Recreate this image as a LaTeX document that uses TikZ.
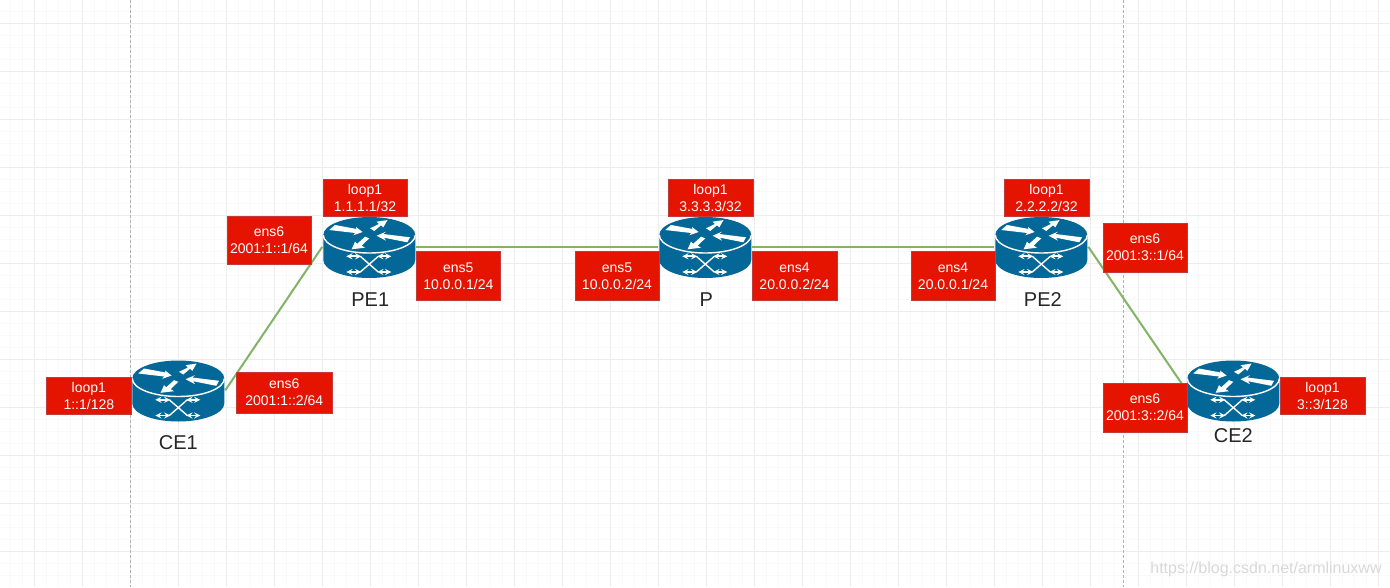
\documentclass[tikz,border=0pt]{standalone}
\usepackage{fontspec}
\setmainfont{Liberation Sans}
\usepackage{xcolor}
\definecolor{routerblue}{HTML}{036897}
\definecolor{addrred}{HTML}{E51400}
\definecolor{addrline}{HTML}{C23B3B}
\definecolor{linkgreen}{HTML}{82B366}
\definecolor{gridmajor}{HTML}{EDEDED}
\definecolor{gridminor}{HTML}{F9F9F9}
\tikzstyle{router} = [rectangle, minimum width=92pt, minimum height=61pt, inner sep=0pt, outer sep=1pt]
\tikzstyle{addr} = [rectangle, minimum width=84.6pt, minimum height=48.6pt, inner sep=0pt, align=center, text=white, draw=addrline, fill=addrred, font=\fontsize{14}{17}\selectfont]
\tikzstyle{loopaddr} = [addr, minimum height=36.7pt]
\tikzstyle{wideaddr} = [addr, minimum width=96.7pt, minimum height=41pt]
\tikzstyle{routername} = [font=\fontsize{20}{24}\selectfont, text=black!85]
\tikzstyle{netlink} = [draw=linkgreen, line width=2pt]
\tikzstyle{guide} = [draw=black!30, line width=0.8pt, dash pattern=on 3pt off 2pt]
\tikzstyle{crossarrow} = [draw=white, line width=1.7pt, <->, >=stealth]
\tikzset{routericon/.pic={
  \fill[routerblue] (-46,12.5) -- (-46,-12.5) arc[start angle=180, end angle=360, x radius=46, y radius=18] -- (46,12.5) arc[start angle=0, end angle=180, x radius=46, y radius=18] -- cycle;
  \draw[white, line width=1.4pt] (-46,12.5) arc[start angle=180, end angle=360, x radius=46, y radius=18];
  \fill[white] (-40,17.5) -- (-34.3,22.5) -- (-12.7,18.5) -- (-13.3,20.5) -- (-6.7,15.5) -- (-16,12.2) -- (-14.3,14.5) -- cycle;
  \fill[white] (0.7,19.2) -- (9.7,23.5) -- (7.3,25.8) -- (18.3,27.5) -- (14,20.2) -- (11.7,22.2) -- (5,16.5) -- cycle;
  \fill[white] (7.3,11.8) -- (16.7,15.8) -- (14,13.5) -- (40.7,10.2) -- (38,5.2) -- (14.7,9.8) -- (16.7,6.8) -- cycle;
  \fill[white] (-17.7,-1.8) -- (-14.3,5.8) -- (-12,3.8) -- (-4.3,10.8) -- (0,9.2) -- (-7.7,1.8) -- (-4.3,-0.2) -- cycle;
  \draw[crossarrow] (-23,-8.8) -- (-8,-8.8);
  \draw[crossarrow] (8,-8.8) -- (22,-8.8);
  \draw[crossarrow] (-23,-24.5) -- (-8,-24.5);
  \draw[crossarrow] (8,-24.5) -- (22,-24.5);
  \draw[white, line width=1.4pt] (-9,-8.8) -- (9,-24.5);
  \draw[white, line width=1.4pt] (9,-8.8) -- (-9,-24.5);
}}

\begin{document}
\begin{tikzpicture}[x=1pt, y=1pt, node distance=48pt]
      \useasboundingbox[fill=white] (0,0) rectangle (1390,-587);
      % grid
      \foreach \x in {10.3,22.3,...,1390} \draw[gridminor, line width=1pt] (\x,0) -- (\x,-587);
      \foreach \y in {11.3,23.3,...,587} \draw[gridminor, line width=1pt] (0,-\y) -- (1390,-\y);
      \foreach \x in {34.3,82.3,...,1390} \draw[gridmajor, line width=1pt] (\x,0) -- (\x,-587);
      \foreach \y in {23.3,71.3,...,587} \draw[gridmajor, line width=1pt] (0,-\y) -- (1390,-\y);
      \coordinate (g1top) at (130.3,0);
      \coordinate (g1bot) at (130.3,-587);
      \coordinate (g2top) at (1123.3,0);
      \coordinate (g2bot) at (1123.3,-587);
      \draw[guide] (g1top)--(g1bot);
      \draw[guide] (g2top)--(g2bot);
      % routers
      \node (pe1)[router] at (369.3,-246.8) {};
      \node (p)[router, right of=pe1, xshift=288pt] {};
      \node (pe2)[router, right of=p, xshift=288pt] {};
      \node (ce1)[router, left of=pe1, xshift=-143pt, yshift=-143.5pt] {};
      \node (ce2)[router, right of=pe2, xshift=144pt, yshift=-143.5pt] {};
      \draw[netlink] (ce1.east)--(pe1.west);
      \draw[netlink] (pe1.east)--(p.west);
      \draw[netlink] (p.east)--(pe2.west);
      \draw[netlink] (pe2.east)--(ce2.west);
      \pic[yshift=-0.7pt] at (pe1) {routericon};
      \pic[yshift=-0.7pt] at (p) {routericon};
      \pic[yshift=-0.7pt] at (pe2) {routericon};
      \pic[yshift=-0.7pt] at (ce1) {routericon};
      \pic[yshift=-0.7pt] at (ce2) {routericon};
      % names
      \node (pe1name)[routername, below of=pe1, yshift=-4.7pt, xshift=1pt]{PE1};
      \node (pname)[routername, below of=p, yshift=-5.2pt, xshift=1pt]{P};
      \node (pe2name)[routername, below of=pe2, yshift=-4.7pt, xshift=1.5pt]{PE2};
      \node (ce1name)[routername, below of=ce1, yshift=-4.7pt]{CE1};
      \node (ce2name)[routername, below of=ce2, yshift=2.3pt]{CE2};
      % addresses
      \node (pe1loop)[loopaddr, above of=pe1, xshift=-4.3pt, yshift=1.15pt]{loop1\\1.1.1.1/32};
      \node (pe1ens5)[addr, right of=pe1, xshift=41pt, yshift=-29.05pt]{ens5\\10.0.0.1/24};
      \node (pe1ens6)[addr, left of=pe1, xshift=-52.3pt, yshift=6.8pt]{ens6\\2001:1::1/64};
      \node (ploop)[loopaddr, above of=p, xshift=5.2pt, yshift=1.15pt]{loop1\\3.3.3.3/32};
      \node (pens5)[addr, left of=p, xshift=-40.3pt, yshift=-29.05pt]{ens5\\10.0.0.2/24};
      \node (pens4)[addr, right of=p, xshift=41.2pt, yshift=-29.05pt]{ens4\\20.0.0.2/24};
      \node (pe2loop)[loopaddr, above of=pe2, xshift=5.2pt, yshift=1.15pt]{loop1\\2.2.2.2/32};
      \node (pe2ens4)[addr, left of=pe2, xshift=-40.3pt, yshift=-29.05pt]{ens4\\20.0.0.1/24};
      \node (pe2ens6)[addr, right of=pe2, xshift=55.7pt, yshift=-0.7pt]{ens6\\2001:3::1/64};
      \node (ce1loop)[loopaddr, left of=ce1, xshift=-41.45pt, yshift=-5.35pt]{loop1\\1::1/128};
      \node (ce1ens6)[wideaddr, right of=ce1, xshift=58pt, yshift=-1.9pt]{ens6\\2001:1::2/64};
      \node (ce2ens6)[addr, left of=ce2, xshift=-40.3pt, yshift=-17.35pt]{ens6\\2001:3::2/64};
      \node (ce2loop)[loopaddr, right of=ce2, xshift=41.2pt, yshift=-5.35pt]{loop1\\3::3/128};
      \node (stamp)[text=black!15, font=\fontsize{16}{18}\selectfont, inner sep=0pt] at (1266,-569) {https://blog.csdn.net/armlinuxww};
    \end{tikzpicture}
\end{document}
